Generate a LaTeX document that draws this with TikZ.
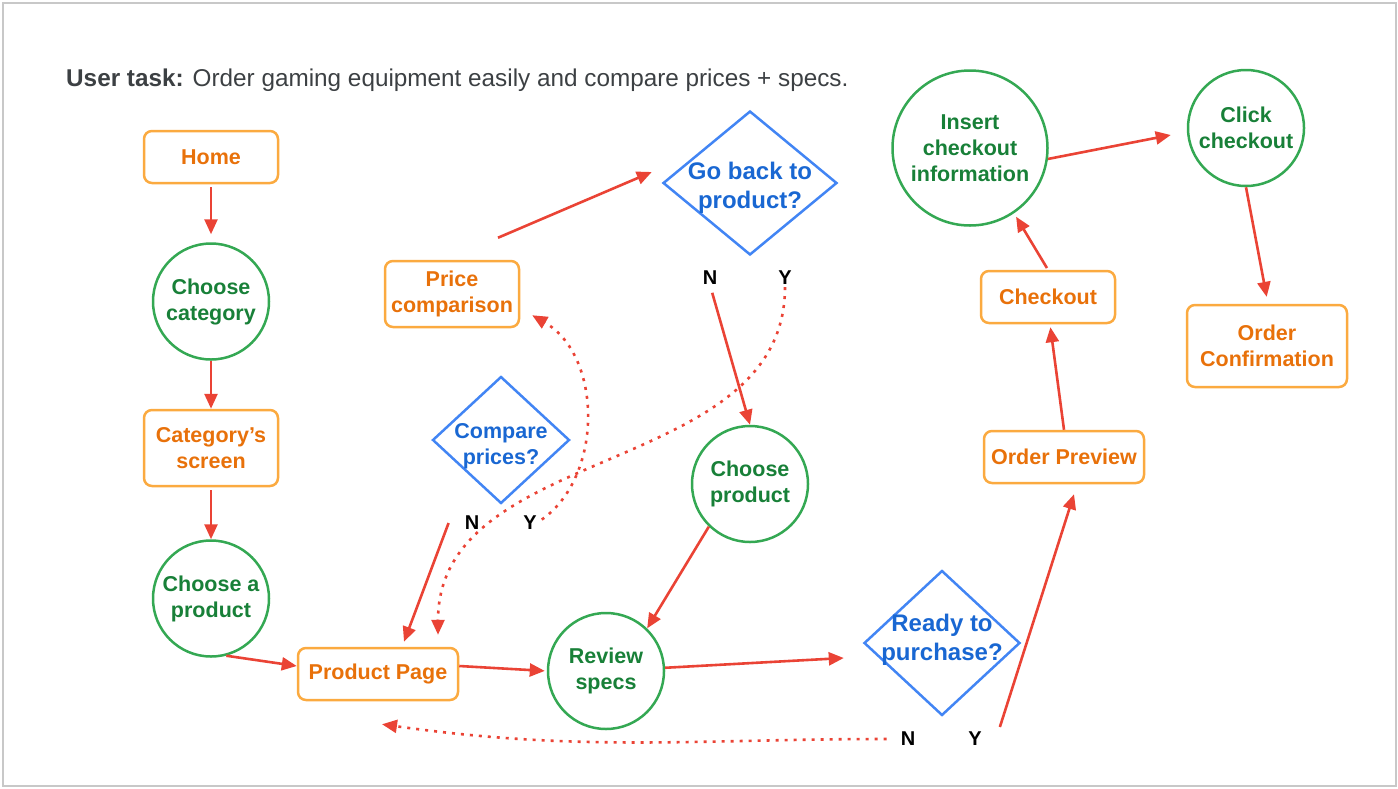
\documentclass[tikz,border=0pt]{standalone}
\usepackage{fontspec}
\setmainfont{Liberation Sans}
\usepackage{xcolor}
\usepackage{tikz}
\usetikzlibrary{shapes.geometric,arrows.meta,positioning}

\definecolor{boxline}{HTML}{FBAA40}
\definecolor{boxtext}{HTML}{E8710A}
\definecolor{ringline}{HTML}{34A853}
\definecolor{ringtext}{HTML}{188038}
\definecolor{askline}{HTML}{4285F4}
\definecolor{asktext}{HTML}{1967D2}
\definecolor{flowred}{HTML}{EA4335}
\definecolor{titlegray}{HTML}{3C4043}
\definecolor{framegray}{HTML}{C8C8C8}

\newcommand{\flowfont}{\bfseries\fontsize{21.5}{26}\selectfont}

\begin{document}
\begin{tikzpicture}[x=1pt, y=-1pt,
			screen/.style={rectangle, draw=boxline, line width=2.5pt, rounded corners=8pt,
					text=boxtext, font=\flowfont, align=center, inner sep=2pt,
					minimum width=134pt, minimum height=52pt},
			action/.style={circle, draw=ringline, line width=2.5pt, text=ringtext,
					font=\flowfont, align=center, inner sep=0pt, minimum size=116pt},
			decision/.style={diamond, draw=askline, line width=2.5pt, inner sep=0pt},
			asklabel/.style={text=asktext, font=\bfseries\fontsize{24}{29}\selectfont, align=center},
			yesno/.style={font=\bfseries\fontsize{20}{24}\selectfont, inner sep=0pt},
			arrow/.style={-{Triangle[length=15pt,width=13pt]}, draw=flowred, line width=2.6pt},
			dotarrow/.style={arrow, dash pattern=on 3pt off 6pt}
		]
		\useasboundingbox (0,0) rectangle (1398,788);
		\draw[framegray, line width=2pt] (2.5,3) rectangle (1396,786);

		\node[anchor=base west, inner sep=0pt, text=titlegray, font=\fontsize{24.3}{29}\selectfont]
			(task) at (66,86) {\textbf{User task:} Order gaming equipment easily and compare prices + specs.};

		% left column
		\node[screen] (home) at (211,157) {Home};
		\node[action, below=58pt of home] (choosecat) {Choose\\category};
		\node[screen, minimum height=76pt, below=48pt of choosecat] (catscreen) {Category’s\\screen};
		\node[action, below=52pt of catscreen] (pickitem) {Choose a\\product};

		% product page and specs
		\node[screen, minimum width=160pt] (prodpage) at (378,674) {Product Page};
		\node[action] (review) at (606,671) {Review\\specs};
		\node[screen, minimum height=66pt] (compare) at (452,294) {Price\\comparison};
		\node[decision, minimum width=137pt, minimum height=127pt,
			label={[asklabel, font=\bfseries\fontsize{21.5}{26}\selectfont, yshift=-6pt]center:Compare\\prices?}] (cmpprice) at (501,440) {};
		\node[yesno] (cmpN) at (472,523) {N};
		\node[yesno] (cmpY) at (530,523) {Y};

		\node[decision, minimum width=174pt, minimum height=144pt,
			label={[asklabel, yshift=-5pt]center:Go back to\\product?}] (goback) at (750,183) {};
		\node[yesno] (gobackN) at (710,278) {N};
		\node[yesno] (gobackY) at (785,278) {Y};
		\node[action] (pickprod) at (750,484) {Choose\\product};

		% purchase side
		\node[decision, minimum width=156pt, minimum height=145pt,
			label={[asklabel, yshift=3pt]center:Ready to\\purchase?}] (ready) at (942,643) {};
		\node[yesno] (readyN) at (908,739) {N};
		\node[yesno] (readyY) at (975,739) {Y};
		\node[screen, minimum width=160pt] (preview) at (1064,457) {Order Preview};
		\node[screen] (checkout) at (1048,297) {Checkout};
		\node[action, minimum size=155pt] (insert) at (970,148) {Insert\\checkout\\information};
		\node[action] (clickbuy) at (1246,128) {Click\\checkout};
		\node[screen, minimum width=160pt, minimum height=82pt] (confirm) at (1267,346) {Order\\Confirmation};

		% Connections
		\draw[arrow, shorten <=3pt, shorten >=8pt] (home) -- (choosecat);
		\draw[arrow] (choosecat) -- (catscreen);
		\draw[arrow, shorten <=3pt] (catscreen) -- (pickitem);
		\draw[arrow] (pickitem.-75) -- ([yshift=8pt]prodpage.west);
		\draw[arrow, shorten >=2pt] ([yshift=8pt]prodpage.east) -- (review.west);
		\draw[arrow] (review) -- ([xshift=-19pt,yshift=-15pt]ready.west);
		\draw[arrow] ([xshift=-16pt]cmpN.west) -- ([xshift=26pt,yshift=5pt]prodpage.north);
		\draw[arrow] ([xshift=46pt,yshift=22pt]compare.north) -- ([xshift=-10pt,yshift=11pt]goback.west);
		\draw[arrow, shorten <=8pt] (gobackN.south) -- (pickprod.north);
		\draw[arrow] (pickprod.-134) -- (review.46);
		\draw[arrow] ([xshift=18pt,yshift=12pt]readyY.east) -- ([xshift=10pt,yshift=-10pt]preview.south);
		\draw[arrow, shorten >=3pt] (preview.north) -- ([xshift=2pt]checkout.south);
		\draw[arrow, shorten <=2pt, shorten >=4pt] (checkout.north) -- (insert.-56);
		\draw[arrow] (insert.-8) -- ([xshift=-16pt,yshift=-7pt]clickbuy.west);
		\draw[arrow, shorten >=7pt] (clickbuy.south) -- ([xshift=1pt]confirm.north);

		% dotted returns
		\draw[dotarrow, shorten <=14pt] (readyN.west) to[out=180, in=-8] ([xshift=4pt,yshift=-23pt]prodpage.south);
		\draw[dotarrow, shorten <=6pt] (cmpY.east) to[out=35, in=-30] ([xshift=12pt,yshift=13pt]compare.south east);
		\draw[dotarrow, shorten <=2pt] (gobackY.south) to[out=-90, in=90] ([xshift=60pt,yshift=12pt]prodpage.north);
	\end{tikzpicture}
\end{document}
